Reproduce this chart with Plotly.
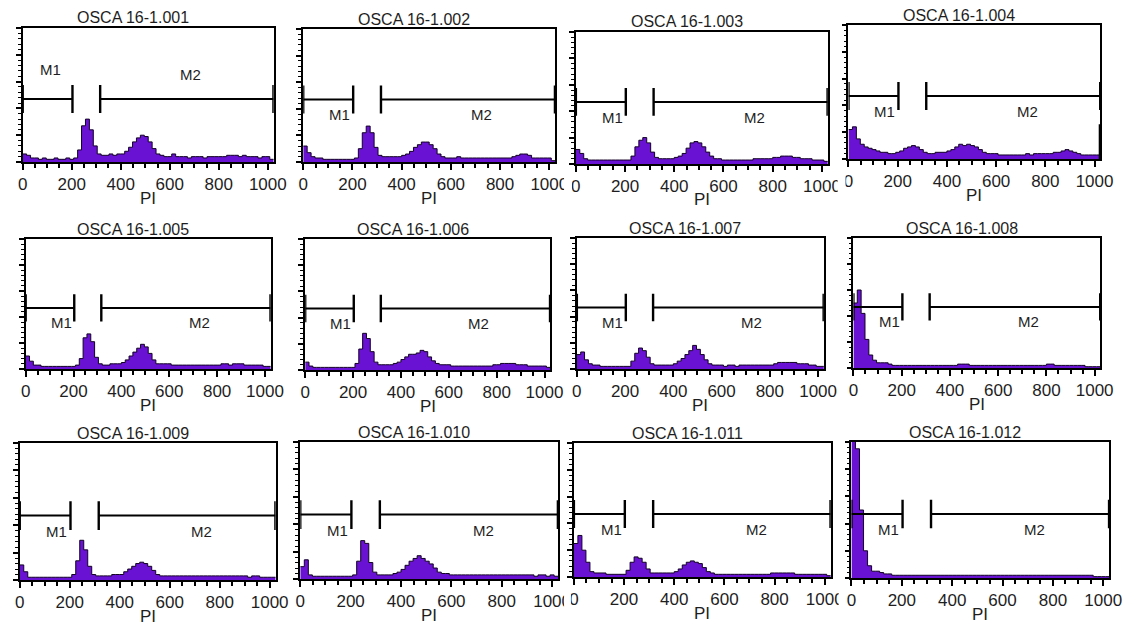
import plotly.graph_objects as go

# ---------------- data ----------------
BIN_WIDTH = 16          # PI channels per histogram bin
N_CHANNELS = 1024

titles = ["OSCA 16-1.001", "OSCA 16-1.002", "OSCA 16-1.003", "OSCA 16-1.004",
          "OSCA 16-1.005", "OSCA 16-1.006", "OSCA 16-1.007", "OSCA 16-1.008",
          "OSCA 16-1.009", "OSCA 16-1.010", "OSCA 16-1.011", "OSCA 16-1.012"]

tick_values = [0, 200, 400, 600, 800, 1000]
tick_labels = ["0", "200", "400", "600", "800", "1000"]
x_title = "PI"

# markers (PI channels) and their level (% of full scale)
m1_range = [0, 203]
m2_range = [316, 1023]
marker_level = 47
marker_names = ["M1", "M2"]

# histogram counts, % of full scale, one value per 16-channel bin (64 bins)
counts_001 = [6, 5, 3, 3, 2, 3, 2, 2,
              3, 2, 2, 3, 2, 3, 9, 27,
              32, 24, 12, 6, 5, 5, 6, 5,
              6, 6, 8, 11, 15, 18, 20, 19,
              15, 10, 6, 5, 4, 4, 6, 4,
              4, 4, 3, 4, 4, 4, 3, 4,
              4, 4, 4, 4, 5, 5, 5, 4,
              5, 4, 4, 4, 3, 4, 4, 2]
counts_002 = [12, 7, 4, 3, 3, 2, 2, 2,
              2, 2, 2, 2, 2, 3, 10, 22,
              27, 22, 11, 5, 4, 4, 4, 4,
              4, 5, 6, 8, 11, 13, 15, 15,
              13, 10, 6, 4, 3, 3, 3, 4,
              3, 3, 3, 3, 3, 3, 3, 3,
              3, 3, 3, 3, 3, 4, 5, 6,
              6, 5, 3, 3, 3, 3, 3, 1]
counts_003 = [11, 8, 4, 3, 3, 3, 3, 3,
              3, 3, 3, 3, 3, 3, 6, 13,
              18, 20, 16, 9, 5, 4, 4, 4,
              4, 5, 6, 8, 12, 16, 17, 16,
              13, 9, 6, 4, 4, 3, 3, 3,
              3, 3, 3, 3, 3, 4, 4, 4,
              4, 4, 5, 5, 6, 6, 6, 5,
              5, 4, 4, 4, 3, 3, 3, 2]
counts_004 = [22, 24, 15, 11, 9, 8, 7, 6,
              5, 5, 4, 4, 5, 6, 8, 9,
              10, 9, 7, 5, 4, 4, 5, 5,
              5, 6, 7, 9, 11, 10, 11, 10,
              9, 7, 5, 4, 4, 4, 3, 3,
              3, 3, 3, 3, 3, 4, 3, 4,
              4, 4, 4, 4, 5, 5, 6, 7,
              6, 5, 4, 3, 3, 3, 3, 3]
counts_005 = [10, 6, 3, 3, 2, 2, 2, 2,
              2, 2, 2, 2, 2, 3, 8, 24,
              27, 21, 9, 4, 3, 3, 4, 4,
              4, 5, 7, 10, 13, 16, 19, 17,
              12, 7, 4, 4, 4, 4, 3, 3,
              3, 3, 3, 3, 3, 3, 3, 3,
              3, 3, 3, 4, 4, 3, 4, 4,
              4, 3, 3, 3, 3, 3, 2, 2]
counts_006 = [6, 3, 2, 2, 2, 2, 2, 2,
              2, 2, 2, 2, 2, 5, 16, 28,
              24, 14, 6, 4, 4, 4, 4, 5,
              6, 8, 10, 12, 12, 13, 15, 14,
              10, 7, 5, 4, 4, 4, 3, 3,
              3, 3, 3, 3, 3, 3, 3, 3,
              3, 4, 4, 5, 5, 5, 5, 4,
              4, 4, 3, 3, 3, 3, 3, 2]
counts_007 = [11, 13, 7, 4, 3, 3, 2, 2,
              2, 2, 2, 2, 2, 2, 6, 12,
              16, 14, 9, 4, 3, 3, 3, 3,
              3, 4, 6, 8, 11, 14, 18, 15,
              11, 7, 4, 3, 3, 3, 2, 3,
              3, 2, 3, 3, 3, 3, 3, 3,
              3, 3, 3, 4, 5, 5, 5, 5,
              5, 4, 4, 4, 3, 3, 2, 2]
counts_008 = [50, 60, 42, 22, 10, 6, 4, 4,
              4, 3, 2, 2, 2, 2, 2, 2,
              2, 2, 2, 2, 2, 2, 2, 2,
              2, 2, 2, 3, 3, 3, 2, 2,
              2, 2, 2, 2, 2, 2, 2, 2,
              2, 2, 2, 2, 2, 2, 2, 2,
              2, 2, 3, 3, 2, 2, 2, 2,
              2, 2, 2, 2, 1, 1, 1, 1]
counts_009 = [11, 6, 2, 2, 2, 2, 2, 2,
              2, 2, 2, 2, 2, 4, 14, 29,
              22, 10, 4, 3, 3, 3, 3, 4,
              4, 4, 6, 8, 10, 12, 13, 12,
              10, 7, 4, 3, 3, 3, 3, 3,
              3, 3, 3, 3, 3, 3, 3, 3,
              3, 3, 3, 3, 3, 3, 3, 3,
              3, 2, 3, 3, 2, 2, 2, 2]
counts_010 = [9, 14, 3, 2, 2, 2, 2, 2,
              2, 2, 2, 2, 2, 3, 13, 28,
              26, 12, 5, 3, 3, 3, 3, 4,
              5, 7, 10, 13, 15, 17, 15, 13,
              11, 8, 5, 4, 4, 3, 3, 3,
              3, 3, 3, 3, 3, 3, 3, 3,
              3, 3, 3, 3, 3, 3, 3, 3,
              3, 3, 2, 3, 3, 2, 3, 2]
counts_011 = [25, 31, 20, 11, 4, 3, 3, 3,
              2, 2, 2, 2, 2, 5, 11, 15,
              14, 11, 6, 3, 3, 3, 3, 3,
              3, 4, 6, 9, 11, 12, 11, 10,
              7, 4, 3, 2, 2, 2, 2, 2,
              2, 2, 2, 2, 2, 2, 2, 2,
              2, 3, 3, 3, 3, 3, 3, 2,
              2, 2, 2, 2, 2, 2, 2, 1]
counts_012 = [108, 95, 50, 20, 9, 5, 5, 4,
              3, 3, 2, 2, 2, 2, 2, 2,
              2, 2, 2, 2, 2, 2, 2, 2,
              2, 2, 2, 2, 2, 2, 2, 2,
              2, 2, 2, 2, 2, 2, 2, 2,
              2, 2, 2, 2, 2, 2, 2, 2,
              2, 2, 2, 2, 2, 2, 2, 2,
              2, 2, 2, 2, 1, 1, 1, 1]

# pile-up in the last channel (1023), % of full scale
last_channel = [0, 0, 0, 26, 0, 0, 0, 0, 0, 0, 0, 0]

all_counts = [counts_001, counts_002, counts_003, counts_004,
              counts_005, counts_006, counts_007, counts_008,
              counts_009, counts_010, counts_011, counts_012]

# ---------------- layout (pixel boxes of each plot area) ----------------
W, H = 1142, 628
boxes = [  # left, right, top, bottom in px
    (18, 273, 28, 162), (303, 559, 29, 162), (580, 836, 32, 164), (857, 1113, 25, 159),
    (21, 270, 239, 369), (305, 554, 239, 370), (581, 832, 238, 369), (862, 1113, 238, 368),
    (15, 275, 443, 580), (300, 562, 442, 579), (578, 839, 443, 577), (860, 1122, 442, 578),
]
labels_above = [True] + [False] * 11

FONT = "Liberation Sans, Arial, sans-serif"
PURPLE = "#6A12D4"
TXT = "#1e1e1e"

bin_edges = list(range(0, N_CHANNELS + 1, BIN_WIDTH))

fig = go.Figure()
shapes, annotations = [], []
layout = {}

for k, (counts, box) in enumerate(zip(all_counts, boxes), start=1):
    assert len(counts) == len(bin_edges) - 1
    xa = "x" if k == 1 else f"x{k}"
    ya = "y" if k == 1 else f"y{k}"
    xkey = "xaxis" if k == 1 else f"xaxis{k}"
    ykey = "yaxis" if k == 1 else f"yaxis{k}"
    l, r, t, b = box

    fig.add_trace(go.Scatter(
        x=bin_edges, y=counts + [counts[-1]], mode="lines", line_shape="hv",
        line=dict(color="#120024", width=1), fill="tozeroy", fillcolor=PURPLE,
        xaxis=xa, yaxis=ya, showlegend=False, hoverinfo="skip"))
    if last_channel[k - 1] > 0:
        fig.add_trace(go.Scatter(
            x=[N_CHANNELS - 1, N_CHANNELS - 1], y=[0, last_channel[k - 1]], mode="lines",
            line=dict(color="black", width=3), xaxis=xa, yaxis=ya,
            showlegend=False, hoverinfo="skip"))

    axis_common = dict(showline=True, linecolor="black", linewidth=1.6, mirror=True,
                       showgrid=False, zeroline=False, ticks="outside",
                       tickcolor="black", tickwidth=1.5, fixedrange=True)
    layout[xkey] = dict(axis_common, domain=[l / W, r / W], anchor=ya,
                        range=[0, N_CHANNELS], tickmode="array",
                        tickvals=tick_values, ticktext=tick_labels, ticklen=6,
                        ticklabelstandoff=0,
                        tickfont=dict(family=FONT, size=17, color=TXT),
                        minor=dict(dtick=50, tick0=0, ticks="outside", ticklen=4,
                                   tickcolor="black", tickwidth=1.5))
    layout[ykey] = dict(axis_common, domain=[1 - b / H, 1 - t / H], anchor=xa,
                        range=[0, 100], dtick=20, ticklen=5, showticklabels=False,
                        minor=dict(dtick=4, ticks="outside", ticklen=3,
                                   tickcolor="black", tickwidth=1.2))

    # markers M1 / M2
    for rng in (m1_range, m2_range):
        shapes.append(dict(type="line", xref=xa, yref=ya, x0=rng[0], x1=rng[1],
                           y0=marker_level, y1=marker_level,
                           line=dict(color="black", width=2)))
        for xe in rng:
            shapes.append(dict(type="line", xref=xa, yref=ya, x0=xe, x1=xe,
                               y0=marker_level - 10.5, y1=marker_level + 10.5,
                               line=dict(color="black", width=2.4)))
    if labels_above[k - 1]:
        mpos = [(114, 69), (683, 65)]
    else:
        mpos = [(148, 35.5), (726, 35.5)]
    for name, (mx, my) in zip(marker_names, mpos):
        annotations.append(dict(x=mx, y=my, xref=xa, yref=ya, text=name,
                                 showarrow=False, font=dict(family=FONT, size=15, color=TXT)))

    # panel title
    annotations.append(dict(x=0.5, y=1, xref=f"{xa} domain", yref=f"{ya} domain",
                            text=titles[k - 1], showarrow=False, yanchor="middle",
                            yshift=10, xshift=-15,
                            font=dict(family=FONT, size=16, color=TXT)))
    # x axis title
    annotations.append(dict(x=0.5, y=0, xref=f"{xa} domain", yref=f"{ya} domain",
                            text=x_title, showarrow=False, yanchor="middle",
                            yshift=-36, font=dict(family=FONT, size=17, color=TXT)))

# cropped edges of the original composite (labels cut by the neighbouring image)
for x0, x1, y0, y1 in [(568, 576, 172, 196), (846, 854, 172, 196),
                       (568, 575, 590, 614), (847, 855, 590, 614)]:
    shapes.append(dict(type="rect", xref="paper", yref="paper",
                       x0=x0 / W, x1=x1 / W, y0=1 - y1 / H, y1=1 - y0 / H,
                       fillcolor="white", line=dict(width=0), layer="above"))

fig.update_layout(width=W, height=H, margin=dict(l=0, r=0, t=0, b=0),
                  paper_bgcolor="white", plot_bgcolor="white",
                  shapes=shapes, annotations=annotations, showlegend=False,
                  **layout)

fig.write_html("out.html")
